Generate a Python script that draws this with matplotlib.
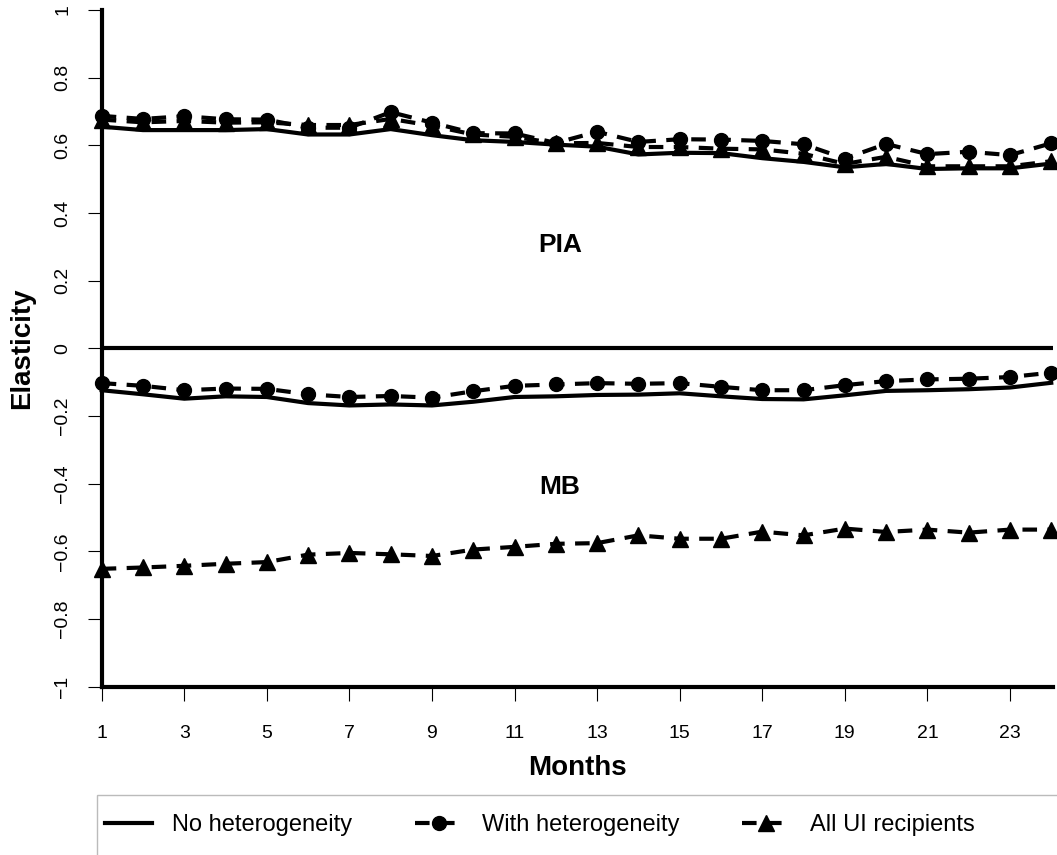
import matplotlib.pyplot as plt
from matplotlib.lines import Line2D
from matplotlib.patches import Rectangle

plt.rcParams['font.family'] = ['Liberation Sans', 'DejaVu Sans']

# months and elasticities
months = list(range(1, 25))

pia_no = [0.655, 0.645, 0.645, 0.645, 0.648, 0.632, 0.632, 0.648, 0.630, 0.615, 0.610, 0.602,
          0.596, 0.573, 0.578, 0.577, 0.562, 0.551, 0.535, 0.545, 0.530, 0.532, 0.532, 0.546]
pia_het = [0.687, 0.678, 0.686, 0.677, 0.676, 0.652, 0.652, 0.698, 0.667, 0.636, 0.635, 0.607,
           0.640, 0.610, 0.618, 0.617, 0.613, 0.603, 0.561, 0.604, 0.574, 0.581, 0.571, 0.606]
pia_all = [0.676, 0.668, 0.672, 0.667, 0.668, 0.660, 0.660, 0.678, 0.658, 0.632, 0.625, 0.606,
           0.607, 0.595, 0.595, 0.590, 0.588, 0.575, 0.545, 0.566, 0.538, 0.538, 0.538, 0.553]

mb_no = [-0.124, -0.136, -0.149, -0.142, -0.144, -0.162, -0.169, -0.166, -0.169, -0.158, -0.144, -0.142,
         -0.138, -0.137, -0.133, -0.142, -0.150, -0.151, -0.139, -0.126, -0.124, -0.121, -0.116, -0.102]
mb_het = [-0.103, -0.111, -0.124, -0.119, -0.120, -0.136, -0.144, -0.141, -0.146, -0.127, -0.111, -0.107,
          -0.103, -0.105, -0.103, -0.114, -0.124, -0.124, -0.109, -0.097, -0.092, -0.090, -0.085, -0.072]
mb_all = [-0.652, -0.648, -0.643, -0.637, -0.632, -0.610, -0.605, -0.609, -0.614, -0.595, -0.587, -0.578,
          -0.576, -0.553, -0.563, -0.563, -0.542, -0.553, -0.533, -0.543, -0.536, -0.545, -0.536, -0.536]

xticks = [1, 3, 5, 7, 9, 11, 13, 15, 17, 19, 21, 23]
yticks = [-1, -0.8, -0.6, -0.4, -0.2, 0, 0.2, 0.4, 0.6, 0.8, 1]
ytick_labels = ['\u22121', '\u22120.8', '\u22120.6', '\u22120.4', '\u22120.2', '0', '0.2', '0.4', '0.6', '0.8', '1']

fig = plt.figure(figsize=(10.57, 8.55), dpi=100)
ax = fig.add_axes([0.0962, 0.197, 0.9003, 0.7913])

lw = 3
dash = (3.5, 2.5)
solid_kw = dict(color='black', lw=lw, clip_on=False, solid_joinstyle='round')
circ_kw = dict(color='black', lw=lw, dashes=dash, marker='o', markersize=10, clip_on=False)
tri_kw = dict(color='black', lw=lw, dashes=dash, marker='^', markersize=12, clip_on=False)

ax.plot(months, pia_no, **solid_kw)
ax.plot(months, pia_het, **circ_kw)
ax.plot(months, pia_all, **tri_kw)
ax.plot(months, mb_no, **solid_kw)
ax.plot(months, mb_het, **circ_kw)
ax.plot(months, mb_all, **tri_kw)
ax.axhline(0, color='black', lw=lw)

ax.text(12.1, 0.305, 'PIA', fontsize=19, fontweight='bold', ha='center', va='center')
ax.text(12.1, -0.41, 'MB', fontsize=19, fontweight='bold', ha='center', va='center')

ax.set_xlim(1, 24.05)
ax.set_ylim(-1, 1)
ax.set_xticks(xticks)
ax.set_xticklabels([str(m) for m in xticks])
ax.set_yticks(yticks)
ax.set_yticklabels(ytick_labels, rotation=90, va='center')
ax.tick_params(axis='both', length=10, width=0.8, labelsize=14)
ax.tick_params(axis='x', pad=18)
ax.tick_params(axis='y', pad=12)

for s in ['top', 'right']:
    ax.spines[s].set_visible(False)
for s in ['left', 'bottom']:
    ax.spines[s].set_linewidth(3)

ax.set_xlabel('Months', fontsize=20, fontweight='bold', labelpad=9)
ax.set_ylabel('Elasticity', fontsize=20, fontweight='bold', labelpad=14)

# legend box, running off the bottom and right edges like the reference
fig.patches.append(Rectangle((97 / 1057, -0.05), 1.0, 0.05 + 1 - 795 / 855,
                             transform=fig.transFigure, facecolor='white',
                             edgecolor='#bbbbbb', lw=1))

handles = [
    Line2D([], [], color='black', lw=lw),
    Line2D([], [], color='black', lw=lw, dashes=dash, marker='o', markersize=10),
    Line2D([], [], color='black', lw=lw, dashes=dash, marker='^', markersize=12),
]
labels = ['No heterogeneity', 'With heterogeneity', 'All UI recipients']
fig.legend(handles, labels, loc='center left', ncol=3,
           bbox_to_anchor=(105 / 1057, 1 - 825 / 855),
           fontsize=17, frameon=False, numpoints=1,
           handlelength=2.0, handletextpad=0.85, columnspacing=2.65,
           borderpad=0, borderaxespad=0)

plt.savefig('out.png', dpi=100)
